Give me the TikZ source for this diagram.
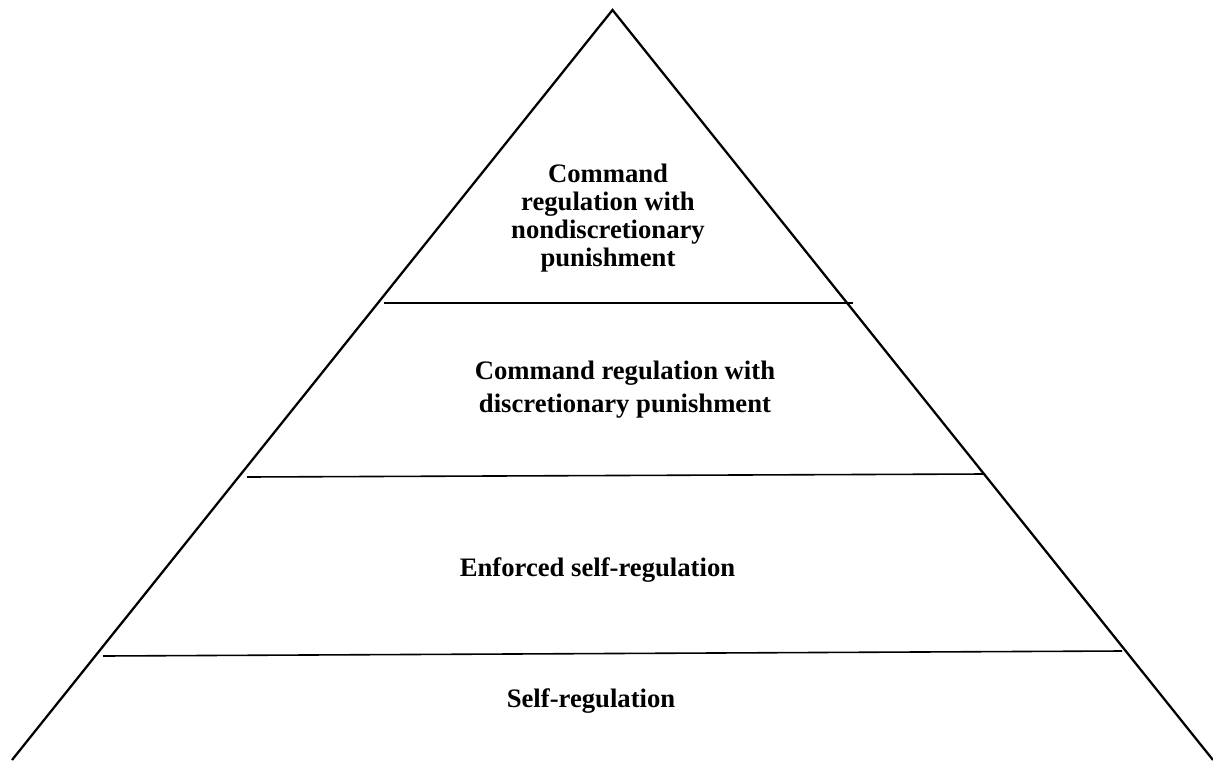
\documentclass[tikz,border=0pt]{standalone}
\usepackage{fontspec}
\setmainfont{Liberation Serif}
\begin{document}
\begin{tikzpicture}[x=0.75pt,y=-0.75pt,
  edge/.style={line width=1.7pt,line join=miter},
  tier/.style={line width=1.2pt},
  label/.style={font=\bfseries\fontsize{20}{21}\selectfont,align=center,inner sep=0pt}]
\useasboundingbox (0,0) rectangle (1213,760);
% pyramid outline
\coordinate (apex) at (612.5,10);
\coordinate (bl) at (12,760);
\coordinate (br) at (1213,760);
\draw[edge] (bl) -- (apex) -- (br);
% tier dividers
\coordinate (t1l) at (384,303);  \coordinate (t1r) at (853,303);
\coordinate (t2l) at (247,477);  \coordinate (t2r) at (985,474);
\coordinate (t3l) at (103,656);  \coordinate (t3r) at (1122,651);
\draw[tier] (t1l) -- (t1r);
\draw[tier] (t2l) -- (t2r);
\draw[tier] (t3l) -- (t3r);
% tier labels
\node[label] (top) at (608,218) {Command\\regulation with\\nondiscretionary\\punishment};
\node[label,font=\bfseries\fontsize{20}{25}\selectfont] (second) at (625,389.5) {Command regulation with\\discretionary punishment};
\node[label,anchor=base] (third) at (597.5,576.7) {Enforced self-regulation};
\node[label,anchor=base] (base) at (591,707) {Self-regulation};
\end{tikzpicture}
\end{document}
